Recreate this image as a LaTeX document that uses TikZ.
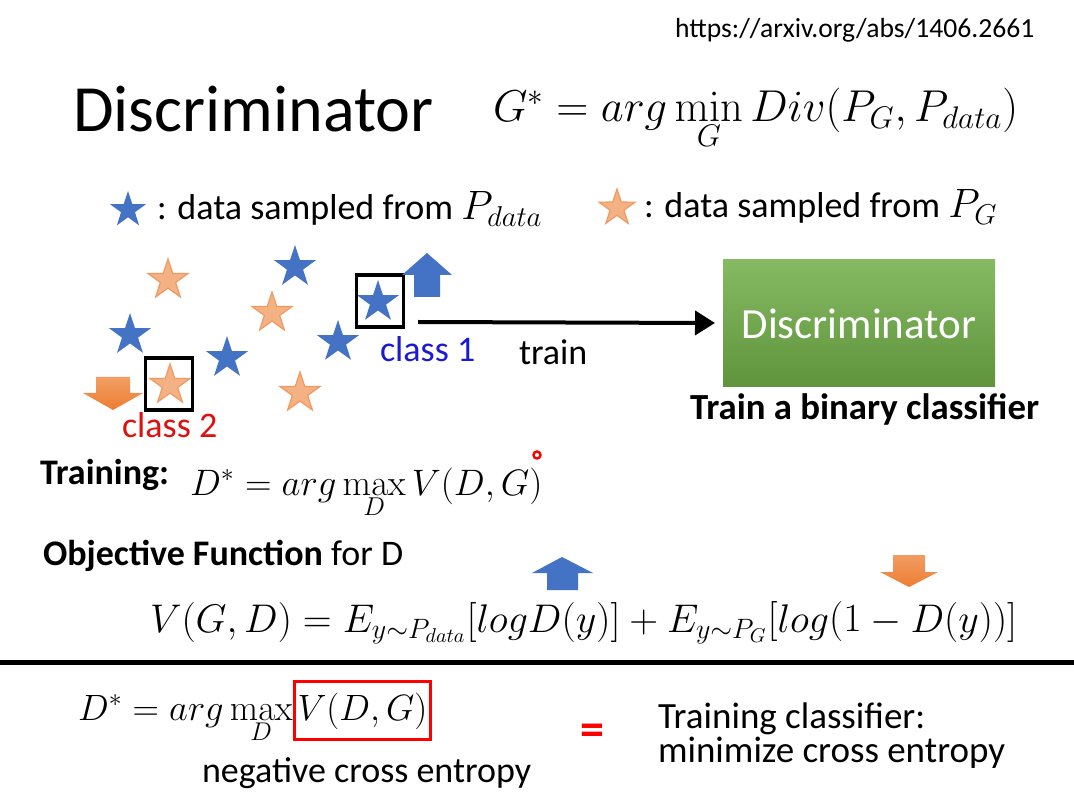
\RequirePackage{fix-cm}
\documentclass[tikz,border=0pt]{standalone}
\usepackage[no-math]{fontspec}
\setmainfont{Carlito}
\usetikzlibrary{shapes.geometric,positioning,arrows.meta}
\definecolor{pdblue}{HTML}{4472C4}
\definecolor{pgorange}{HTML}{F4B183}
\definecolor{pgedge}{HTML}{F09A62}
\definecolor{arrorange}{HTML}{ED7D31}
\definecolor{discgreen}{HTML}{70AD47}
\definecolor{clsblue}{HTML}{1A1AD6}
\definecolor{clsred}{HTML}{E01010}

\begin{document}
\begin{tikzpicture}[
  x=0.5pt,y=-0.5pt,
  >=Stealth,
  every node/.style={inner sep=0pt,outer sep=0pt},
  txt/.style={anchor=base west,font=\fontsize{18}{22}\selectfont},
  mth/.style={anchor=base west,font=\fontsize{21}{25}\selectfont},
  pdstar/.style={star,star points=5,star point ratio=2.6,minimum size=22pt,fill=pdblue},
  pgstar/.style={star,star points=5,star point ratio=2.6,minimum size=21pt,
    fill=pgorange,draw=pgedge,line width=0.6pt},
  pick/.style={draw,line width=1.6pt,minimum width=23.5pt,minimum height=26pt},
  disc/.style={minimum width=136pt,minimum height=63.5pt,top color=discgreen!85!white,
    bottom color=discgreen!85!black,text=white,font=\fontsize{21.5}{26}\selectfont},
  redbox/.style={draw=red,line width=1.6pt,minimum height=29pt,inner xsep=1.5pt},
  upblue/.style={fill=pdblue},
  downorange/.style={top color=arrorange!75!white,bottom color=arrorange},
  flow/.style={-{Triangle[length=10pt,width=12pt]},line width=2pt}
]
  \useasboundingbox[fill=white] (0,0) rectangle (1074,795);

  % header
  \node[anchor=base west,font=\fontsize{13.8}{16}\selectfont] (url) at (675,38)
    {https://arxiv.org/abs/1406.2661};
  \node[anchor=base west,font=\fontsize{33}{40}\selectfont] (title) at (73,132) {Discriminator};
  \node[mth,font=\fontsize{22.3}{26}\selectfont] (gstar) at (493,122)
    {$G^*=arg\min\limits_G Div(P_G,P_{data})$};

  % legend
  \node[pdstar,minimum size=19pt] (legblue) at (128,210) {};
  \node[txt] (legbluetxt) at (157,220)
    {: data sampled from {\fontsize{20.5}{24}\selectfont$P_{data}$}};
  \node[pgstar,minimum size=19pt] (legorange) at (617,208) {};
  \node[txt] (legorangetxt) at (644,218)
    {: data sampled from {\fontsize{20.5}{24}\selectfont$P_G$}};

  % samples
  \node[pgstar] (g1) at (168,280) {};
  \node[pgstar] (g2) at (272,313) {};
  \node[pgstar] (g3) at (300,393) {};
  \node[pgstar] (g4) at (170,385) {};
  \node[pdstar] (d1) at (295,267) {};
  \node[pdstar] (d2) at (130,335) {};
  \node[pdstar] (d3) at (227,358) {};
  \node[pdstar] (d4) at (338,342) {};
  \node[pdstar] (d5) at (378,302) {};
  \node[pick] (pickone) at (380,301) {};
  \node[pick] (picktwo) at (169,384) {};
  \node[txt,text=clsblue] (clsone) at (380,362) {class 1};
  \node[txt,text=clsred] (clstwo) at (122,438) {class 2};

  % up / down block arrows
  \path[upblue] (414,297) -- (414,275) -- (402,275) -- (427,253) -- (452,275)
    -- (440,275) -- (440,297) -- cycle;
  \path[downorange] (96,377) -- (130,377) -- (130,393) -- (143,393) -- (113,410)
    -- (83,393) -- (96,393) -- cycle;

  % discriminator
  \node[disc] (disc) at (859,323.5) {Discriminator};
  \node[anchor=base west,font=\bfseries\fontsize{18.4}{22}\selectfont] (binary) at (690,420)
    {Train a binary classifier};
  \coordinate (trainstart) at (418,322);
  \draw[flow,shorten >=4pt] (trainstart) -- (disc);
  \node[txt] (train) at (519,365) {train};

  % training objective
  \node[anchor=base west,font=\bfseries\fontsize{18}{22}\selectfont] (training) at (40,485) {Training:};
  \node[mth,font=\fontsize{18.4}{22}\selectfont] (dstar) at (190,495) {$D^*=arg\max\limits_D V(D,G)$};
  \filldraw[draw=red,fill=white,line width=1.2pt] (537,455) circle (3.5);
  \node[anchor=base west,font=\fontsize{18}{22}\selectfont] (objective) at (43,565)
    {\textbf{Objective Function} for D};
  \node[mth,font=\fontsize{20}{24}\selectfont] (veq) at (150,632)
    {$V(G,D)=E_{y\sim P_{data}}[logD(y)]+E_{y\sim P_G}\bigl[log\bigl(1-D(y)\bigr)\bigr]$};
  \path[upblue] (547,590) -- (547,573) -- (532,573) -- (562,557) -- (593,573)
    -- (578,573) -- (578,590) -- cycle;
  \path[downorange] (893,555) -- (925,555) -- (925,572) -- (938,572) -- (909,587)
    -- (880,572) -- (893,572) -- cycle;

  % separator
  \coordinate (sepl) at (0,662);
  \coordinate (sepr) at (1074,662);
  \draw[line width=2.5pt] (sepl) -- (sepr);

  % bottom
  \node[mth,font=\fontsize{18.3}{22}\selectfont] (dbottom) at (78,720) {$D^*=arg\max\limits_D$};
  \node[redbox,anchor=base west,font=\fontsize{18.3}{22}\selectfont] (vbox)
    at ([xshift=1pt]dbottom.base east) {$V(D,G)$};
  \node[anchor=base west,font=\fontsize{18}{22}\selectfont] (negce) at (202,782) {negative cross entropy};
  \node[font=\bfseries\fontsize{24}{28}\selectfont,text=red] (equal) at (592,735) {=};
  \node[anchor=base west,font=\fontsize{18.5}{22}\selectfont] (clf) at (658,728) {Training classifier:};
  \node[anchor=base west,font=\fontsize{18.5}{22}\selectfont] (mince) at (658,762) {minimize cross entropy};
\end{tikzpicture}
\end{document}
